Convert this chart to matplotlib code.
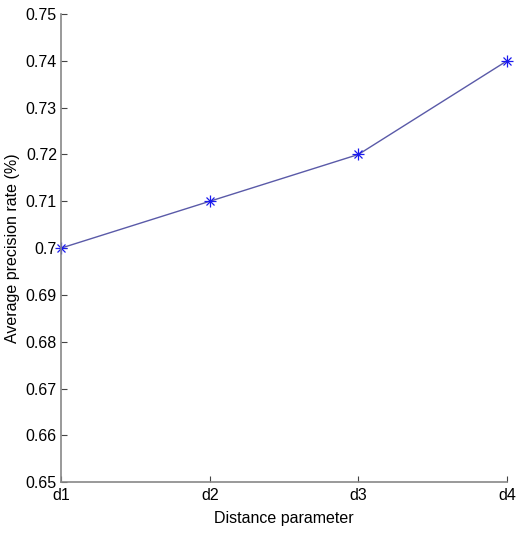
import matplotlib
matplotlib.use("Agg")
import matplotlib.pyplot as plt

plt.rcParams['font.family'] = ['Liberation Sans', 'DejaVu Sans']

# Data
categories = ['d1', 'd2', 'd3', 'd4']
precision = [0.70, 0.71, 0.72, 0.74]
y_ticks = [0.65, 0.66, 0.67, 0.68, 0.69, 0.70, 0.71, 0.72, 0.73, 0.74, 0.75]
y_labels = ['0.65', '0.66', '0.67', '0.68', '0.69', '0.7', '0.71', '0.72', '0.73', '0.74', '0.75']

fig = plt.figure(figsize=(5.18, 5.37), dpi=100)
ax = fig.add_axes([0.118, 0.102, 0.861, 0.872])

x = list(range(len(categories)))
ax.plot(x, precision, '-', color='#5a5aa8', linewidth=1.0)
# MATLAB-style asterisk marker: plus and cross overlaid
ax.plot(x, precision, '+', color='#1a1aee', markersize=8, markeredgewidth=0.9, clip_on=False)
ax.plot(x, precision, 'x', color='#1a1aee', markersize=6, markeredgewidth=0.9, clip_on=False)

ax.set_xlim(0, 3)
ax.set_ylim(0.65, 0.75)
ax.set_xticks(x)
ax.set_xticklabels(categories, fontsize=11.5)
ax.set_yticks(y_ticks)
ax.set_yticklabels(y_labels, fontsize=11.5)
ax.tick_params(direction='in', length=4, width=0.8, color='#444444')
ax.tick_params(axis='x', pad=4)
ax.tick_params(axis='y', pad=3)

for side in ['top', 'right']:
    ax.spines[side].set_visible(False)
for side in ['left', 'bottom']:
    ax.spines[side].set_color('#888888')
    ax.spines[side].set_linewidth(1.2)

ax.set_xlabel('Distance parameter', fontsize=11.5, labelpad=6)
ax.set_ylabel('Average precision rate (%)', fontsize=11.5, labelpad=4)

fig.savefig('out.png', dpi=100, facecolor='white')
